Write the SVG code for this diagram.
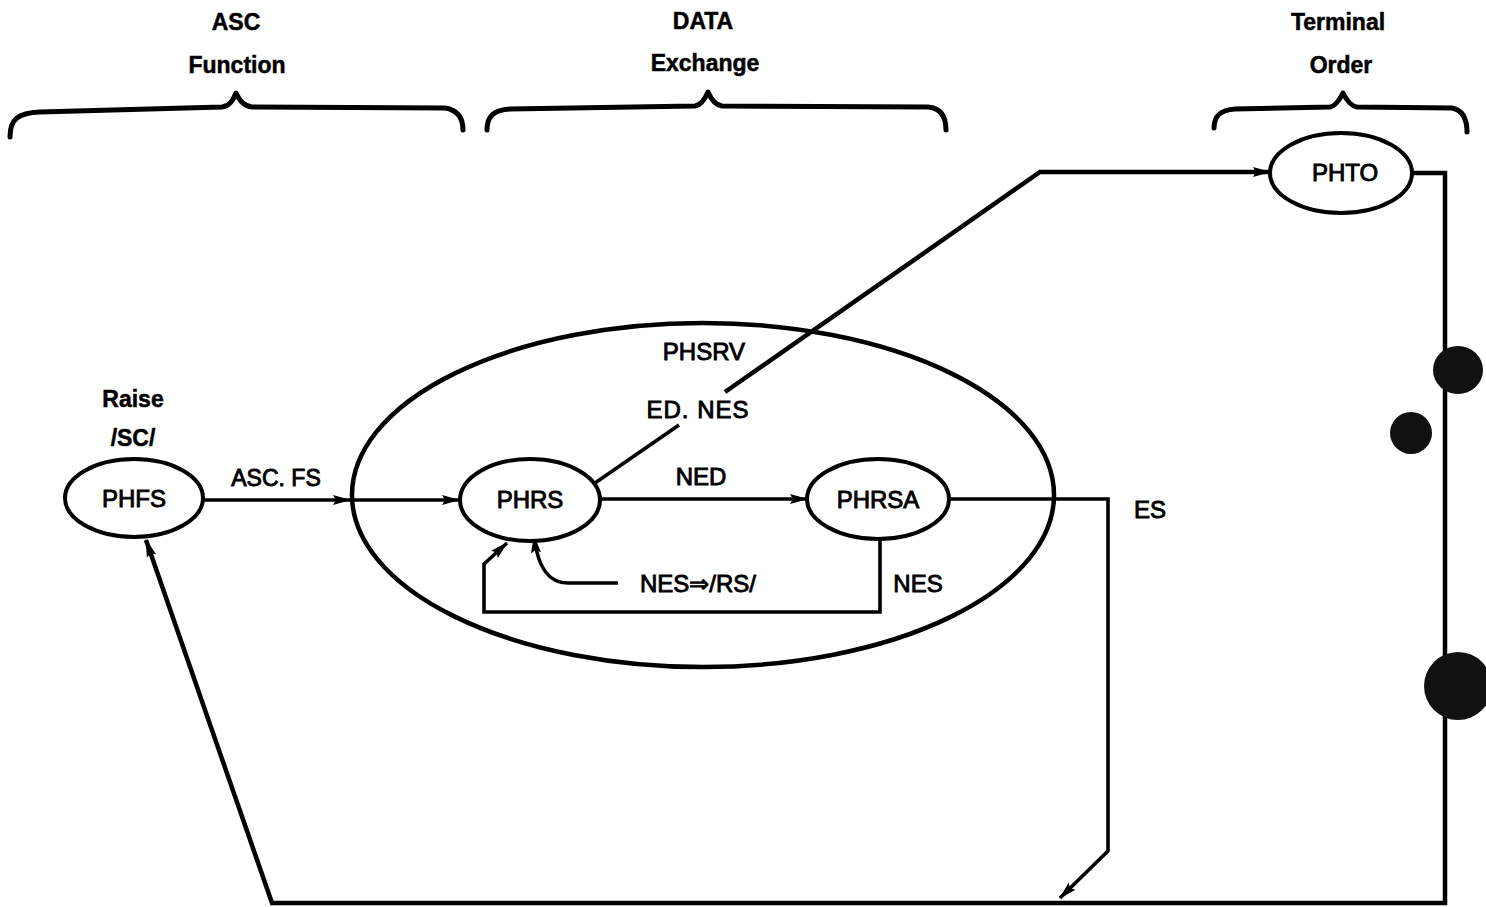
<svg xmlns="http://www.w3.org/2000/svg" width="1486" height="907" viewBox="0 0 1486 907">
<defs>
<style>
.bg{fill:#ffffff}
.brace{fill:none;stroke:#000;stroke-width:5;stroke-linecap:round;stroke-linejoin:round}
.node{fill:#fff;stroke:#000;stroke-width:4}
.big{fill:none;stroke:#000;stroke-width:4.5}
.ln{fill:none;stroke:#000;stroke-width:3.6;stroke-linejoin:miter}
.thk{stroke-width:4.5}
.hd{font-family:"Liberation Sans",Arial,sans-serif;font-weight:bold;font-size:23px;fill:#000;stroke:#000;stroke-width:0.5;text-anchor:middle}
.lb{font-family:"Liberation Sans",Arial,sans-serif;font-size:24px;fill:#000;stroke:#000;stroke-width:0.9;text-anchor:middle}
.hole{fill:#111}
</style>
<marker id="ah" viewBox="0 0 18 10" refX="17" refY="5" markerWidth="18" markerHeight="10" markerUnits="userSpaceOnUse" orient="auto">
<path d="M0,0 L18,5 L0,10 L3,5 z" fill="#000"/>
</marker>
</defs>
<rect class="bg" x="0" y="0" width="1486" height="907"/>

<g id="headings">
<text class="hd" x="236" y="30">ASC</text>
<text class="hd" x="237" y="73">Function</text>
<path class="brace" d="M10,137 C10,119 18,113 40,112 L222,107 C230,106 233,100 236,93 C239,100 243,106 252,107 L445,108 C458,110 463,118 463,130"/>
<text class="hd" x="703" y="29">DATA</text>
<text class="hd" x="705" y="71">Exchange</text>
<path class="brace" d="M487,130 C487,116 494,110 510,109 L695,106 C701,105 705,99 708,92 C711,99 715,105 722,106 L928,107 C940,108 946,116 946,130"/>
<text class="hd" x="1338" y="30">Terminal</text>
<text class="hd" x="1341" y="73">Order</text>
<path class="brace" d="M1214,128 C1214,116 1220,110 1235,109 L1330,107 C1336,106 1340,99 1343,93 C1346,99 1350,106 1357,107 L1452,108 C1462,110 1467,118 1467,132"/>
</g>

<g id="connectors">
<path class="ln" d="M203,500 L350,500" marker-end="url(#ah)"/>
<path class="ln" d="M350,500 L459,500" marker-end="url(#ah)"/>
<path class="ln" d="M600,499 L807,499" marker-end="url(#ah)"/>
<path class="ln" d="M595,483 L679,425"/>
<path class="ln thk" d="M725,392 L1040,172 L1270,172" marker-end="url(#ah)"/>
<path class="ln" d="M948,499 L1108,499 L1108,851 L1060,898" marker-end="url(#ah)"/>
<path class="ln thk" d="M1412,173 L1445,173 L1445,903 L272,903 L146,540" marker-end="url(#ah)"/>
<path class="ln" d="M880,540 L880,612 L484,612 L484,564 L507,543" marker-end="url(#ah)"/>
<path class="ln" d="M618,583 L568,583 C550,583 538,570 534,536" marker-end="url(#ah)"/>
</g>

<g id="PHSRV">
<ellipse class="big" cx="703" cy="495" rx="351" ry="172"/>
<text class="lb" x="704" y="360">PHSRV</text>
</g>

<g id="PHFS">
<ellipse class="node" cx="134" cy="498" rx="69" ry="39"/>
<text class="lb" x="134" y="507">PHFS</text>
<text class="hd" x="133" y="407">Raise</text>
<text class="hd" x="133" y="446">/SC/</text>
</g>

<g id="PHRS">
<ellipse class="node" cx="530" cy="500" rx="70" ry="41"/>
<text class="lb" x="530" y="508">PHRS</text>
</g>

<g id="PHRSA">
<ellipse class="node" cx="878" cy="499" rx="71" ry="40"/>
<text class="lb" x="878" y="508">PHRSA</text>
</g>

<g id="PHTO">
<ellipse class="node" cx="1341" cy="173" rx="71" ry="40"/>
<text class="lb" x="1345" y="181">PHTO</text>
</g>

<g id="labels">
<text class="lb" x="276" y="486" style="font-size:23px">ASC. FS</text>
<text class="lb" x="701" y="485">NED</text>
<text class="lb" x="698" y="418" style="letter-spacing:1px">ED. NES</text>
<text class="lb" x="1150" y="518">ES</text>
<text class="lb" x="918" y="592">NES</text>
<text class="lb" x="698" y="592">NES⇒/RS/</text>
</g>

<g id="holes">
<ellipse class="hole" cx="1458" cy="370" rx="25" ry="24"/>
<circle class="hole" cx="1411" cy="433" r="21"/>
<circle class="hole" cx="1458" cy="686" r="34" fill="#333"/>
</g>
</svg>
